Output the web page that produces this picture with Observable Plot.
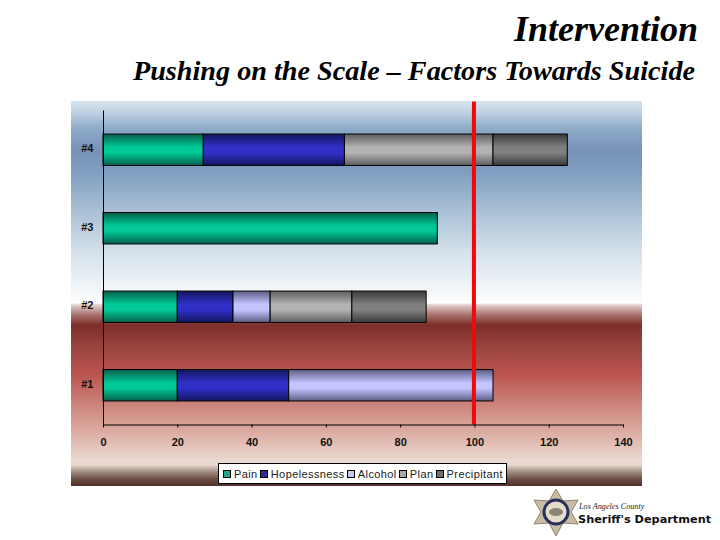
<!DOCTYPE html>
<html>
<head>
<meta charset="utf-8">
<script src="https://cdn.jsdelivr.net/npm/d3@7"></script>
<script src="https://cdn.jsdelivr.net/npm/@observablehq/plot@0.6"></script>
<style>
html,body{margin:0;padding:0;background:#fff;width:720px;height:540px;overflow:hidden}
#page{position:relative;width:720px;height:540px}
#t1,#t2{position:absolute;font-family:"Liberation Serif",serif;font-weight:bold;font-style:italic;color:#000;white-space:nowrap;line-height:1}
#t1{right:22px;top:11px;font-size:36px}
#t2{right:25px;top:57px;font-size:28.2px}
#bg{position:absolute;left:71px;top:101px;width:571px;height:385px;
background:linear-gradient(to bottom,#d8e5f0 0,#c3d4e4 10px,#8eacc8 27px,#7892b8 49px,#7d9cbf 69px,#9db7cf 99px,#d3dfea 149px,#fafcfd 199px,#fff 202px,#e3d0ce 204px,#a8716c 214px,#7e2e2a 224px,#97423e 244px,#bc5550 274px,#c97d75 299px,#dba99e 329px,#ebd9d2 360px,#e6d8d0 364px,#a89488 370px,#6e4e44 378px,#50302a 385px)}
#chart{position:absolute;left:0;top:0}
#legend{position:absolute;left:218px;top:463px;width:289px;height:21px;background:#fff;border:1px solid #000;display:flex;align-items:center;justify-content:space-between;padding:0 3px 0 4px;box-sizing:border-box;font:11px "Liberation Sans",sans-serif;letter-spacing:.4px;color:#222}
#legend span.i{display:flex;align-items:center;white-space:nowrap}
#legend i{display:inline-block;width:6px;height:6px;border:1px solid #000;margin-right:3px}
#logo{position:absolute;left:530px;top:486px}
</style>
</head>
<body>
<div id="page">
<div id="t1">Intervention</div>
<div id="t2">Pushing on the Scale – Factors Towards Suicide</div>
<div id="bg"></div>
<div id="chart"></div>
<div id="legend"></div>
<svg id="logo" width="190" height="54" viewBox="0 0 190 54">
<polygon points="26,3 33,15 48,14 41,26 48,38 33,37 26,50 19,37 4,38 11,26 4,14 19,15" fill="#c9bca4" stroke="#8f8468" stroke-width="1"/>
<circle cx="26" cy="26" r="12" fill="#e3dccb" stroke="#2b2f5c" stroke-width="3"/>
<ellipse cx="26" cy="26" rx="7" ry="4" fill="#8a8272"/>
<text x="49" y="23" font-family="Liberation Serif" font-style="italic" font-size="8.2" fill="#222">Los Angeles County</text>
<text x="48" y="37" font-family="DejaVu Sans" font-weight="bold" font-size="11.3" fill="#111">Sheriff's Department</text>
</svg>
</div>
<script>
const cases = ["#4","#3","#2","#1"];
const seriesNames = ["Pain","Hopelessness","Alcohol","Plan","Precipitant"];
const pain         = [27, 90, 20, 20];
const hopelessness = [38, 0, 15, 30];
const alcohol      = [0, 0, 10, 55];
const plan         = [40, 0, 22, 0];
const precipitant  = [20, 0, 20, 0];
const threshold = [100];
const xTicks = [0,20,40,60,80,100,120,140];
const gradEdge = ["#06604c","#14165e","#5c5c84","#5e5e5e","#3a3a3a"];
const gradMid  = ["#00c896","#3030c8","#c4c4ff","#b2b2b2","#808080"];
const swatch   = ["#1fa888","#2c2c98","#c4c4ec","#a8a8a8","#707070"];

const columns = [pain,hopelessness,alcohol,plan,precipitant];
const rows = seriesNames.flatMap((s,k)=>cases.map((c,i)=>({c,s,k,v:columns[k][i]}))).filter(d=>d.v>0);

const plot = Plot.plot({
  width:720,height:540,
  marginLeft:103,marginRight:97,marginTop:110.5,marginBottom:115.5,
  style:{background:"transparent",fontFamily:"Liberation Sans",fontSize:"11px",fontWeight:"bold",color:"#111",overflow:"visible"},
  x:{domain:[0,140],label:null},
  y:{domain:cases,label:null,paddingInner:0.6,paddingOuter:0.3,round:false},
  color:{type:"identity"},
  marks:[
    Plot.barX(rows,Plot.stackX({x:"v",y:"c",fill:d=>`url(#grad${d.k})`,stroke:"#000",strokeWidth:1})),
    Plot.ruleX(threshold,{stroke:"#ee0a0a",strokeWidth:4,insetTop:-9,dx:-1}),
    Plot.frame({anchor:"left",stroke:"#000",strokeWidth:1}),
    Plot.frame({anchor:"bottom",stroke:"#000",strokeWidth:1}),
    Plot.axisY({tickSize:0,tickPadding:10,label:null,stroke:"none",dy:-1.5}),
    Plot.axisX({ticks:xTicks,tickSize:3,tickPadding:10,tickFormat:d=>String(d),label:null,stroke:"#000"})
  ]
});
const defs = d3.select(plot).insert("defs",":first-child");
seriesNames.forEach((s,k)=>{
  const g = defs.append("linearGradient").attr("id",`grad${k}`).attr("x1",0).attr("y1",0).attr("x2",0).attr("y2",1);
  [[0,gradEdge[k]],[0.42,gradMid[k]],[0.6,gradMid[k]],[1,gradEdge[k]]].forEach(([o,c])=>g.append("stop").attr("offset",o).attr("stop-color",c));
});
document.getElementById("chart").append(plot);
const legend = d3.select("#legend");
seriesNames.forEach((s,k)=>{
  const it = legend.append("span").attr("class","i");
  it.append("i").style("background",swatch[k]);
  it.append("span").text(s);
});
</script>
</body>
</html>
